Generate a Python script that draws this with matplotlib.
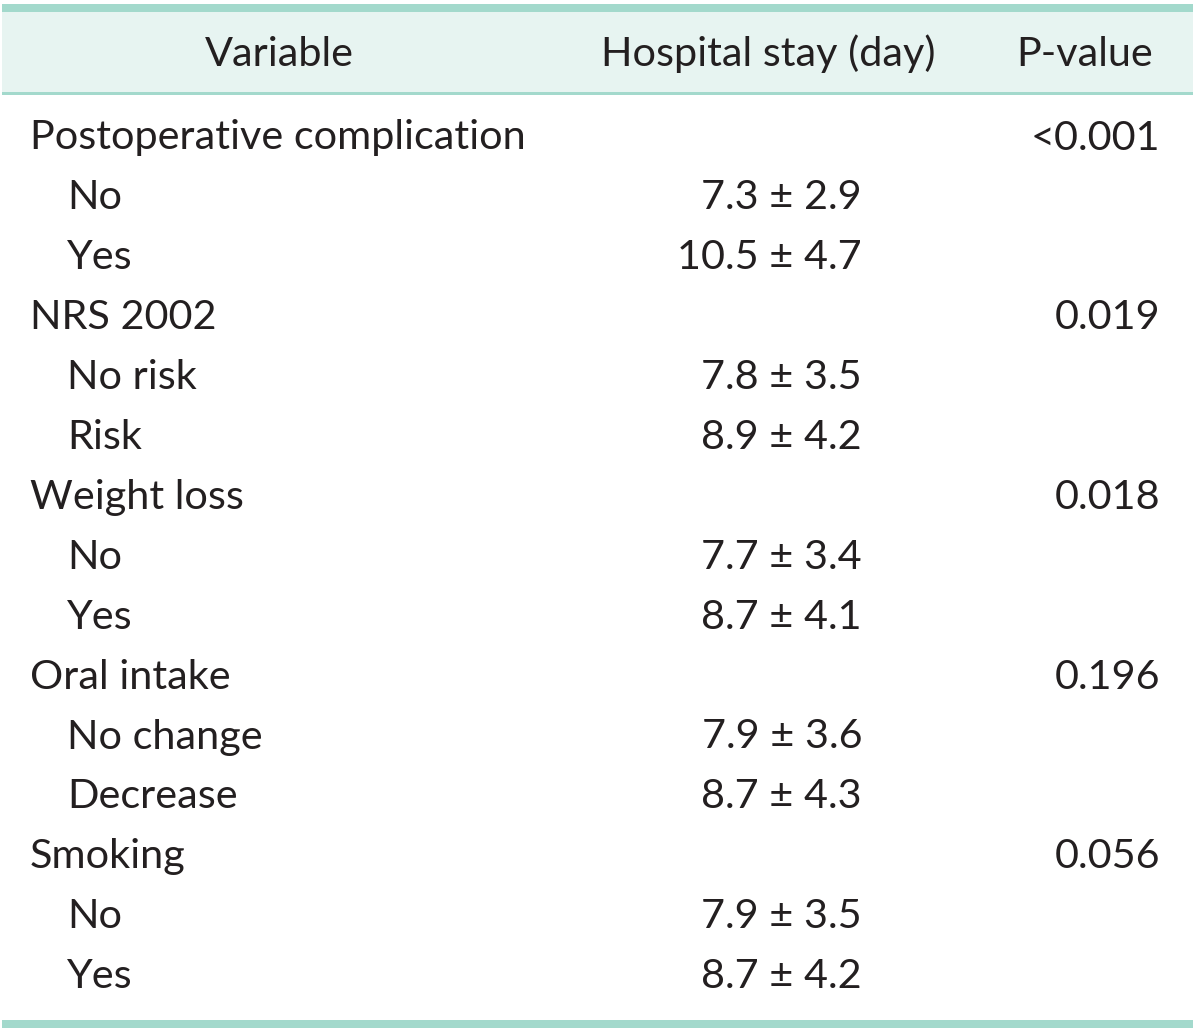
import matplotlib
matplotlib.use("Agg")
import matplotlib.pyplot as plt
from matplotlib.patches import Rectangle

headers = ["Variable", "Hospital stay (day)", "P-value"]
groups = ["Postoperative complication", "NRS 2002", "Weight loss", "Oral intake", "Smoking"]
p_values = ["<0.001", "0.019", "0.018", "0.196", "0.056"]
levels = [["No", "Yes"], ["No risk", "Risk"], ["No", "Yes"], ["No change", "Decrease"], ["No", "Yes"]]
means = [[7.3, 10.5], [7.8, 8.9], [7.7, 8.7], [7.9, 8.7], [7.9, 8.7]]
sds = [[2.9, 4.7], [3.5, 4.2], [3.4, 4.1], [3.6, 4.3], [3.5, 4.2]]

W, H = 1200, 1031
fig = plt.figure(figsize=(12, 10.31), dpi=100)
ax = fig.add_axes([0, 0, 1, 1])
ax.set_xlim(0, W)
ax.set_ylim(H, 0)
ax.axis("off")

border = "#A3D9CC"
header_bg = "#E7F4F1"
txt = "#231F20"
fam = "Lato"
fs = 29.8

ax.add_patch(Rectangle((2, 12), 1191, 80, facecolor=header_bg, edgecolor="none"))
ax.add_patch(Rectangle((2, 4), 1191, 8, facecolor=border, edgecolor="none"))
ax.add_patch(Rectangle((2, 92), 1191, 2.5, facecolor=border, edgecolor="none"))
ax.add_patch(Rectangle((2, 1020), 1191, 8, facecolor=border, edgecolor="none"))

ax.text(279, 54, headers[0], ha="center", va="center", fontsize=fs, family=fam, color=txt)
ax.text(768, 54, headers[1], ha="center", va="center", fontsize=fs, family=fam, color=txt)
ax.text(1085, 54, headers[2], ha="center", va="center", fontsize=fs, family=fam, color=txt)

y0 = 138
dy = 59.9
r = 0
for g, p, lv, m, s in zip(groups, p_values, levels, means, sds):
    y = y0 + r * dy
    ax.text(30, y, g, ha="left", va="center", fontsize=fs, family=fam, color=txt)
    ax.text(1160, y, p, ha="right", va="center", fontsize=fs, family=fam, color=txt)
    r += 1
    for l, mm, ss in zip(lv, m, s):
        y = y0 + r * dy
        ax.text(67, y, l, ha="left", va="center", fontsize=fs, family=fam, color=txt)
        ax.text(862, y, f"{mm:.1f} \u00b1 {ss:.1f}", ha="right", va="center", fontsize=fs, family=fam, color=txt)
        r += 1

fig.savefig("out.png", dpi=100)
